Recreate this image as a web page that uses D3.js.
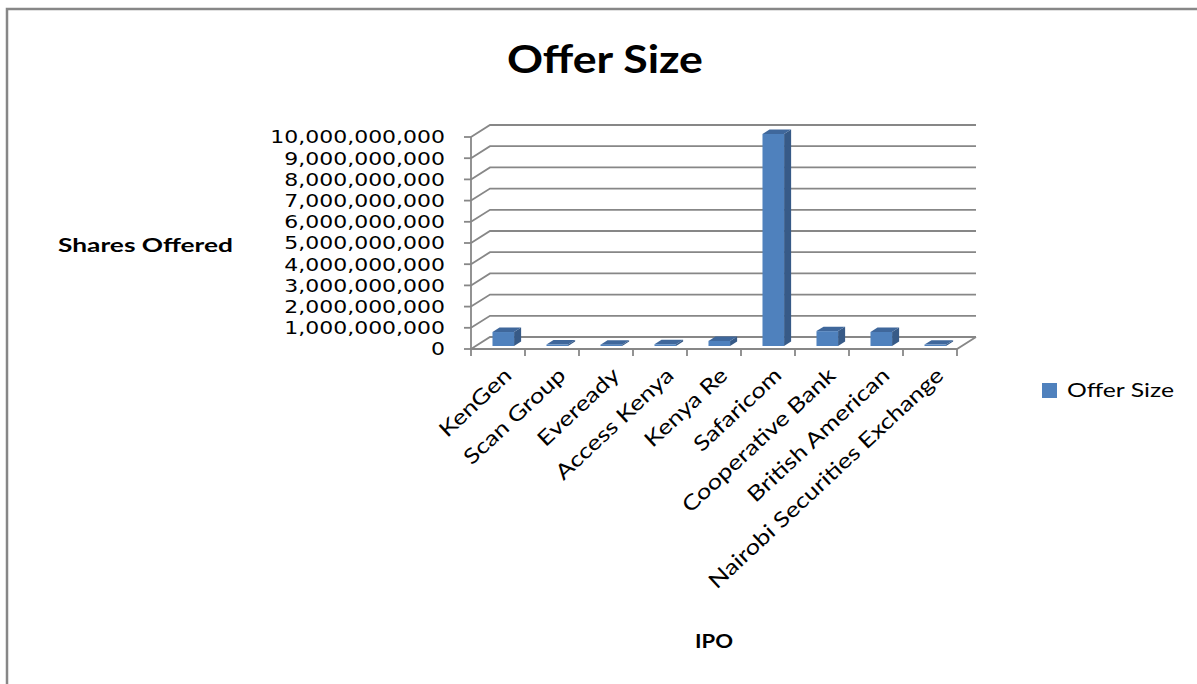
<!DOCTYPE html>
<html><head><meta charset="utf-8">
<script src="https://cdn.jsdelivr.net/npm/d3@7"></script>
<style>body{margin:0;background:#fff} svg{display:block}</style>
</head><body><svg id="c" width="1197" height="684"></svg>
<script>
const categories = ["KenGen","Scan Group","Eveready","Access Kenya","Kenya Re","Safaricom","Cooperative Bank","British American","Nairobi Securities Exchange"];
const offerSize = [658900000, 68400000, 63000000, 80000000, 240000000, 10000000000, 701991000, 660000000, 66000000];
const yTicks = [0,1000000000,2000000000,3000000000,4000000000,5000000000,6000000000,7000000000,8000000000,9000000000,10000000000];
const seriesName = "Offer Size";
const chartTitle = "Offer Size";
const yTitle = "Shares Offered";
const xTitle = "IPO";

const svg = d3.select("#c");
const GRID = "#878787";
const DX = 19, DY = -12;
const x = d3.scaleBand().domain(categories).range([471, 957]);
const y = d3.scaleLinear().domain([0, 10000000000]).range([349, 137]);
const bw = x.bandwidth();

// frame
svg.append("path").attr("d", "M7,684 L7,9 L1197,9").attr("fill", "none").attr("stroke", GRID).attr("stroke-width", 2.5);

// gridlines (back wall + side wall diagonal)
const g = svg.append("g").attr("fill", "none").attr("stroke", GRID).attr("stroke-width", 1.8);
yTicks.forEach(t => {
  const yy = y(t);
  g.append("path").attr("d", `M${x.range()[0]},${yy} L${x.range()[0]+DX},${yy+DY} L${x.range()[1]+DX},${yy+DY}`);
  g.append("line").attr("x1", x.range()[0]-7).attr("x2", x.range()[0]).attr("y1", yy).attr("y2", yy);
});
g.append("path").attr("d", `M${x.range()[0]},${y(0)} L${x.range()[1]},${y(0)} L${x.range()[1]+DX},${y(0)+DY}`);
g.append("line").attr("x1", x.range()[0]).attr("x2", x.range()[0]).attr("y1", y(0)).attr("y2", y(10000000000));
categories.concat([null]).forEach(c => {
  const xx = c === null ? x.range()[1] : x(c);
  g.append("line").attr("x1", xx).attr("x2", xx).attr("y1", y(0)).attr("y2", y(0)+7);
});

// bars
const f0 = 0.25, f1 = 0.62;
const ox = f0*DX, oy = f0*DY, bdx = (f1-f0)*DX, bdy = (f1-f0)*DY;
const bars = svg.append("g");
categories.forEach((c, i) => {
  const v = offerSize[i];
  const bx = x(c) + bw*0.31 + ox, bwid = bw*0.4;
  const yb = y(0) + oy, yt = y(v) + oy;
  bars.append("polygon").attr("points", [[bx+bwid,yt],[bx+bwid+bdx,yt+bdy],[bx+bwid+bdx,yb+bdy],[bx+bwid,yb]].map(p=>p.join(",")).join(" ")).attr("fill", "#375A87");
  bars.append("polygon").attr("points", [[bx,yt],[bx+bdx,yt+bdy],[bx+bwid+bdx,yt+bdy],[bx+bwid,yt]].map(p=>p.join(",")).join(" ")).attr("fill", "#3F679B");
  bars.append("rect").attr("x", bx).attr("y", yt).attr("width", bwid).attr("height", Math.max(0, yb-yt)).attr("fill", "#4F81BD");
});

// y tick labels
const fmt = d3.format(",");
svg.append("g").selectAll("text").data(yTicks).join("text")
  .attr("x", 445).attr("y", d => y(d)).attr("dy", "0.36em")
  .attr("text-anchor", "end").attr("font-family", "DejaVu Sans").attr("font-size", 18).attr("fill", "#000")
  .text(d => fmt(d))
  .each(function(){ const w = this.getComputedTextLength(); d3.select(this).attr("textLength", w*1.22).attr("lengthAdjust", "spacingAndGlyphs"); });

// category labels
svg.append("g").selectAll("text").data(categories).join("text")
  .attr("transform", d => `translate(${x(d)+bw/2+15},${y(0)+28}) rotate(-43)`)
  .attr("text-anchor", "end").attr("font-family", "Lato").attr("font-size", 21).attr("fill", "#000")
  .text(d => d)
  .each(function(){ const w = this.getComputedTextLength(); d3.select(this).attr("textLength", w*1.22).attr("lengthAdjust", "spacingAndGlyphs"); });

// titles
svg.append("text").attr("x", 507).attr("y", 73).attr("font-family", "Lato").attr("font-weight", "bold").attr("font-size", 39)
  .attr("textLength", 196).attr("lengthAdjust", "spacingAndGlyphs").text(chartTitle);
svg.append("text").attr("x", 58).attr("y", 252).attr("font-family", "Lato").attr("font-weight", "bold").attr("font-size", 19)
  .attr("textLength", 175).attr("lengthAdjust", "spacingAndGlyphs").text(yTitle);
svg.append("text").attr("x", 695).attr("y", 648).attr("font-family", "Lato").attr("font-weight", "bold").attr("font-size", 19)
  .attr("textLength", 38).attr("lengthAdjust", "spacingAndGlyphs").text(xTitle);

// legend
svg.append("rect").attr("x", 1042).attr("y", 383).attr("width", 15).attr("height", 15).attr("fill", "#4F81BD");
svg.append("text").attr("x", 1067).attr("y", 397).attr("font-family", "Lato").attr("font-size", 20)
  .attr("textLength", 107).attr("lengthAdjust", "spacingAndGlyphs").text(seriesName);
</script></body></html>
